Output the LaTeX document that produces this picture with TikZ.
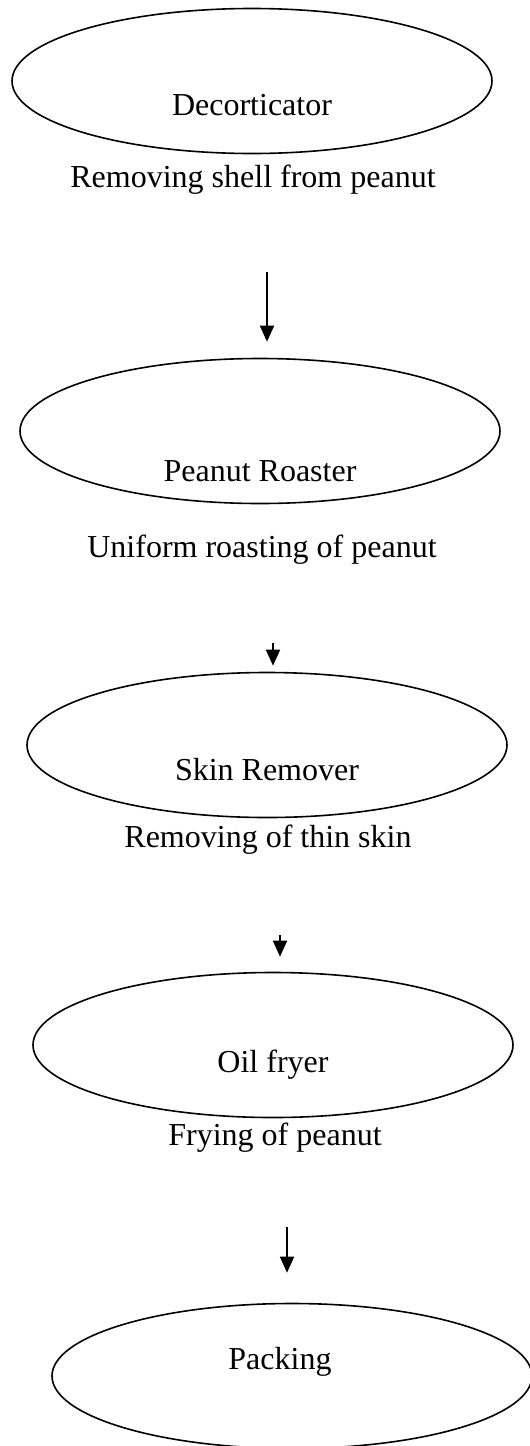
\documentclass[tikz,border=0pt]{standalone}
\usepackage{fontspec}
\setmainfont{Liberation Serif}
\usetikzlibrary{shapes.geometric,arrows.meta}

\begin{document}
\begin{tikzpicture}[x=0.5pt, y=-0.5pt, every node/.style={font=\fontsize{16}{19}\selectfont},
    machine/.style={draw, ellipse, line width=0.8pt, minimum width=240pt, minimum height=72.5pt, inner sep=0pt},
    flow/.style={-{Triangle[length=8pt,width=7pt]}, line width=0.9pt}]
    \useasboundingbox (0,0) rectangle (530,1446);

    % Decorticator - ellipse, name and task below
    \node[machine] (decort) at (252,81) {};
    \node (decortname) at (252,105) {Decorticator};
    \node (decorttask) at (253,180) {Removing shell from peanut};

    % Peanut roaster
    \node[machine] (roast) at (260,431) {};
    \node (roastname) at (260,471) {Peanut Roaster};
    \node (roasttask) at (262,550) {Uniform roasting of peanut};

    % Skin remover
    \node[machine] (skin) at (267,745) {};
    \node (skinname) at (267,770) {Skin Remover};
    \node (skintask) at (268,840) {Removing of thin skin};

    % Oil fryer
    \node[machine] (fryer) at (273,1045) {};
    \node (fryername) at (273,1065) {Oil fryer};
    \node (fryertask) at (275,1138) {Frying of peanut};

    % Packing - runs off the page edge
    \node[machine] (pack) at (292,1376) {};
    \node (packname) at (280,1362) {Packing};

    % Arrows - start points placed explicitly
    \coordinate (arrA) at (267,272);
    \coordinate (arrB) at (273,643);
    \coordinate (arrC) at (280,935);
    \coordinate (arrD) at (287,1227);
    \draw[flow, shorten >=8pt] (arrA) -- (arrA |- roast.north);
    \draw[flow, shorten >=3pt] (arrB) -- (arrB |- skin.north);
    \draw[flow, shorten >=7.5pt] (arrC) -- (arrC |- fryer.north);
    \draw[flow, shorten >=15pt] (arrD) -- (arrD |- pack.north);
\end{tikzpicture}
\end{document}
